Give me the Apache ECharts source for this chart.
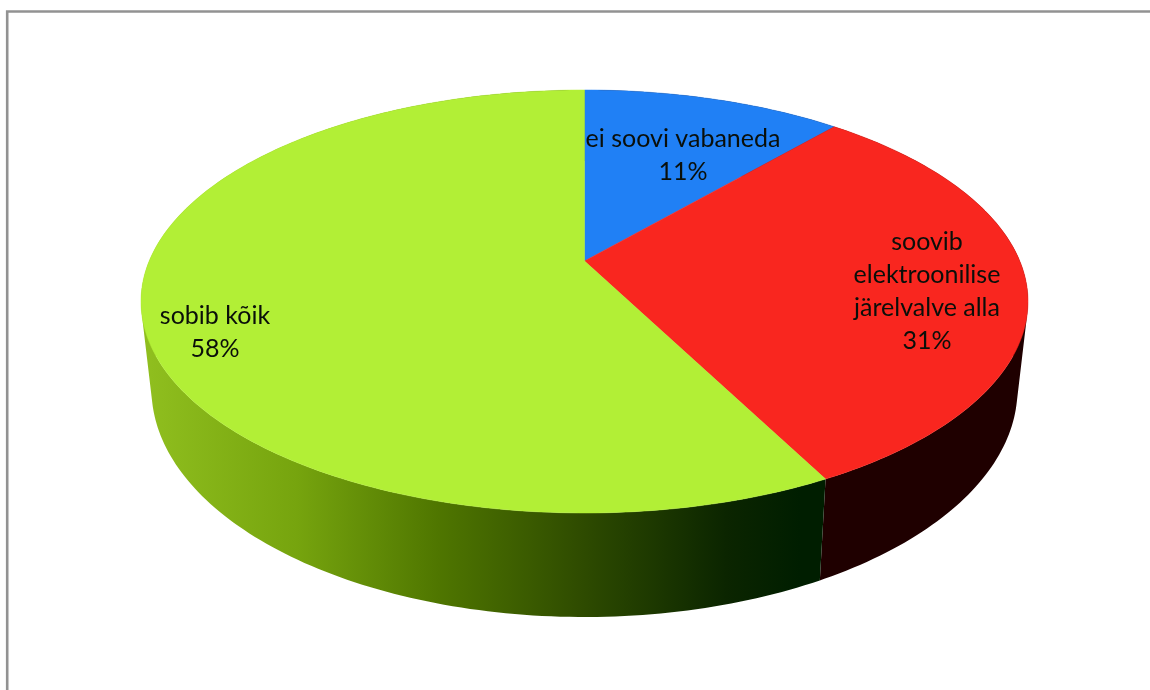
<!DOCTYPE html>
<html>
<head>
<meta charset="utf-8">
<style>html,body{margin:0;padding:0;background:#fff}#c{width:1150px;height:690px}</style>
<script src="https://cdn.jsdelivr.net/npm/echarts@6/dist/echarts.min.js"></script>
</head>
<body>
<div id="c"></div>
<script>
// ---- data ----
const categories = ['ei soovi vabaneda', 'soovib\nelektroonilise\njärelvalve alla', 'sobib kõik'];
const values = [11.4, 31, 57.6];

// ---- styles / layout ----
const topColors = ['#2080f5', '#f9261f', '#b2ef36'];
const topEllipse = {cx: 584.5, cy: 301.5, rx: 443.5, ry: 211.5};
const baseEllipse = {cx: 584.5, cy: 389, rx: 433, ry: 228};
const tilt = -0.1915;
const labelAnchors = [[683, 155], [927, 291], [215, 332]];

const total = values.reduce((a, b) => a + b, 0);
const startFrac = values.map((_, i) => values.slice(0, i).reduce((a, b) => a + b, 0) / total);

function project(e, deg) {
  const t = deg * Math.PI / 180, u = Math.sin(t), v = -Math.cos(t);
  const w = 1 + tilt * v, k = 1 - tilt * tilt;
  return [e.cx + e.rx * Math.sqrt(k) * u / w, e.cy + e.ry * (v * k / w + tilt)];
}
function apex(e) { return [e.cx, e.cy + e.ry * tilt]; }
function signedArea(q) {
  let s = 0;
  q.forEach((p, n) => { const r = q[(n + 1) % q.length]; s += p[0] * r[1] - r[0] * p[1]; });
  return s;
}

const wallFills = [
  '#1f0000',
  '#1f0000',
  new echarts.graphic.LinearGradient(150, 0, 820, 0, [
    {offset: 0, color: '#8fbe1e'},
    {offset: 0.22, color: '#76a40e'},
    {offset: 0.43, color: '#4f7600'},
    {offset: 0.64, color: '#2f4c00'},
    {offset: 0.86, color: '#0b2500'},
    {offset: 0.97, color: '#001e00'},
    {offset: 1, color: '#001e00'}
  ], true)
];

const seriesData = values.map((v, i) => ({name: categories[i], value: [v, startFrac[i]]}));

function renderWall(params, api) {
  const i = params.dataIndex, from = api.value(1) * 360, to = from + api.value(0) / total * 360;
  let d = '';
  let x0 = Infinity, y0 = Infinity, x1 = -Infinity, y1 = -Infinity;
  for (let a = from; a < to; a += 1) {
    const b = Math.min(a + 1, to);
    let q = [project(topEllipse, a), project(topEllipse, b), project(baseEllipse, b), project(baseEllipse, a)];
    if (signedArea(q) < 0) q = q.reverse();
    q.forEach((p, n) => {
      d += (n ? 'L' : 'M') + p[0].toFixed(2) + ' ' + p[1].toFixed(2) + ' ';
      x0 = Math.min(x0, p[0]); y0 = Math.min(y0, p[1]);
      x1 = Math.max(x1, p[0]); y1 = Math.max(y1, p[1]);
    });
    d += 'Z ';
  }
  x0 = +x0.toFixed(2); y0 = +y0.toFixed(2); x1 = +x1.toFixed(2); y1 = +y1.toFixed(2);
  return {
    type: 'path',
    shape: {pathData: d, layout: 'cover', x: x0, y: y0, width: x1 - x0, height: y1 - y0},
    style: {fill: wallFills[i]}
  };
}

function renderTop(params, api) {
  const i = params.dataIndex, from = api.value(1) * 360, to = from + api.value(0) / total * 360;
  const pts = [apex(topEllipse)];
  for (let a = from; a < to; a += 1) pts.push(project(topEllipse, a));
  pts.push(project(topEllipse, to));
  return {
    type: 'group',
    children: [
      {type: 'polygon', shape: {points: pts}, style: {fill: topColors[i], stroke: topColors[i], lineWidth: 0.5}},
      {
        type: 'text', z2: 10,
        style: {
          x: labelAnchors[i][0], y: labelAnchors[i][1],
          text: categories[i] + '\n' + Math.round(api.value(0)) + '%',
          fill: '#0a0f0a',
          font: '25px Lato, "Open Sans", sans-serif',
          lineHeight: 33,
          align: 'center', verticalAlign: 'middle'
        }
      }
    ]
  };
}

const chart = echarts.init(document.getElementById('c'), null, {renderer: 'canvas'});
chart.setOption({
  animation: false,
  backgroundColor: '#ffffff',
  graphic: [{
    type: 'polyline', silent: true,
    shape: {points: [[7.2, 690], [7.2, 11.5], [1150, 11.5]]},
    style: {stroke: '#929292', lineWidth: 2.6, fill: null}
  }],
  series: [
    {type: 'custom', name: 'wall', coordinateSystem: 'none', z: 1, silent: true, renderItem: renderWall, data: seriesData},
    {type: 'custom', name: 'top', coordinateSystem: 'none', z: 2, silent: true, renderItem: renderTop, data: seriesData}
  ]
});
</script>
</body>
</html>
